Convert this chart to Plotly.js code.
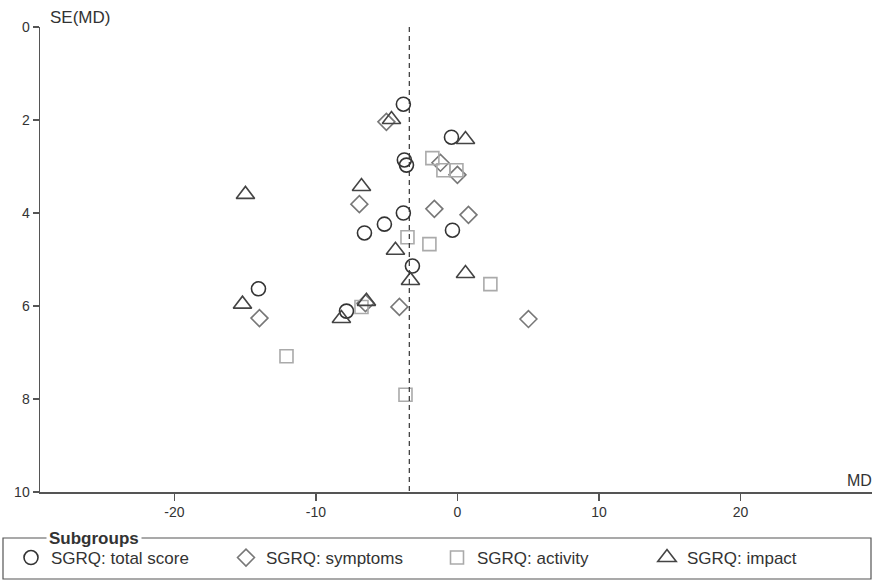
<!DOCTYPE html>
<html>
<head>
<meta charset="utf-8">
<script src="https://cdn.plot.ly/plotly-3.0.1.min.js"></script>
<style>html,body{margin:0;padding:0;background:#fff;}#chart{width:875px;height:583px;}</style>
</head>
<body>
<div id="chart"></div>
<script>
// Subgroup names
const groupNames = ["SGRQ: total score", "SGRQ: symptoms", "SGRQ: activity", "SGRQ: impact"];

// SGRQ: total score (MD, SE)
const totalMD = [-3.82, -0.42, -3.75, -3.6, -3.82, -5.16, -6.57, -0.35, -3.18, -14.06, -7.84];
const totalSE = [1.66, 2.37, 2.86, 2.97, 4.0, 4.24, 4.43, 4.37, 5.14, 5.63, 6.11];

// SGRQ: symptoms
const sympMD = [-5.02, -1.2, 0.0, -6.93, -1.63, 0.78, -13.99, -6.5, -4.1, 5.02];
const sympSE = [2.04, 2.92, 3.18, 3.81, 3.91, 4.04, 6.26, 5.94, 6.02, 6.28];

// SGRQ: activity
const actMD = [-1.77, -0.99, -0.07, -3.53, -1.98, 2.33, -6.78, -12.08, -3.67];
const actSE = [2.82, 3.08, 3.08, 4.52, 4.67, 5.53, 6.02, 7.08, 7.91];

// SGRQ: impact
const impMD = [-4.66, 0.57, -14.98, -6.78, -4.38, -3.32, 0.57, -15.19, -6.43, -8.2];
const impSE = [1.99, 2.42, 3.60, 3.43, 4.80, 5.45, 5.30, 5.96, 5.90, 6.27];

// Pooled effect (dashed line)
const pooledMD = -3.4;
const seRange = [0, 10];

const xTicks = [-20, -10, 0, 10, 20];
const yTicks = [0, 2, 4, 6, 8, 10];

const font = "Liberation Sans, Arial, sans-serif";
const legendIds = ["legend", "legend2", "legend3", "legend4"];
const legendLeft = [11, 226, 437, 647];

function tr(i, x, y, symbol, color, size) {
  return {
    type: "scatter", mode: "markers", name: groupNames[i], x: x, y: y, legend: legendIds[i],
    marker: { symbol: symbol, size: size, color: "rgba(255,255,255,0)", line: { color: color, width: 1.6 } },
    hoverinfo: "x+y"
  };
}

const data = [
  tr(0, totalMD, totalSE, "circle", "#333333", 14),
  tr(1, sympMD, sympSE, "diamond", "#777777", 13),
  tr(2, actMD, actSE, "square", "#aaaaaa", 13),
  tr(3, impMD, impSE, "triangle-up", "#444444", 16)
];

const W = 832, H = 465, L = 40, T = 27;
function px(x) { return (x - L) / W; }
function py(y) { return (T + H - y) / H; }

function legendAt(i) {
  return {
    orientation: "h", xref: "container", yref: "container",
    x: legendLeft[i] / 875, xanchor: "left", y: (583 - 558) / 583, yanchor: "middle",
    font: { family: font, size: 17, color: "#333" },
    bgcolor: "rgba(0,0,0,0)", borderwidth: 0, itemwidth: 30
  };
}

const layout = {
  width: 875, height: 583,
  margin: { l: L, r: 3, t: T, b: 91 },
  paper_bgcolor: "#fff", plot_bgcolor: "#fff",
  font: { family: font, size: 13, color: "#333" },
  showlegend: true,
  xaxis: {
    range: [-29.5, 29.3], tickvals: xTicks, ticktext: xTicks.map(String),
    showgrid: false, zeroline: false, showline: true, linecolor: "#555", linewidth: 1.5,
    ticks: "outside", ticklen: 7, tickcolor: "#555", tickwidth: 1.2,
    tickfont: { family: font, size: 14, color: "#333" }
  },
  yaxis: {
    range: [10, 0], tickvals: yTicks, ticktext: yTicks.map(String),
    showgrid: false, zeroline: false, showline: true, linecolor: "#555", linewidth: 1.5,
    ticks: "outside", ticklen: 6, tickcolor: "#555", tickwidth: 1.2,
    tickfont: { family: font, size: 14, color: "#333" }
  },
  legend: legendAt(0), legend2: legendAt(1), legend3: legendAt(2), legend4: legendAt(3),
  shapes: [
    { type: "line", xref: "x", yref: "y", x0: pooledMD, x1: pooledMD, y0: seRange[0], y1: seRange[1],
      line: { color: "#333", width: 1.2, dash: "5px,4px" } },
    { type: "rect", xref: "paper", yref: "paper", x0: px(3), x1: px(871), y0: py(579), y1: py(538),
      line: { color: "#555", width: 1.2 }, fillcolor: "rgba(0,0,0,0)" }
  ],
  annotations: [
    { text: "SE(MD)", xref: "paper", yref: "paper", x: px(48), y: py(17), xanchor: "left", yanchor: "middle",
      showarrow: false, font: { family: font, size: 17, color: "#333" } },
    { text: "MD", xref: "paper", yref: "paper", x: px(874), y: py(480), xanchor: "right", yanchor: "middle",
      showarrow: false, font: { family: font, size: 16, color: "#333" } },
    { text: "<b>Subgroups</b>", xref: "paper", yref: "paper", x: px(46), y: py(538), xanchor: "left", yanchor: "middle",
      showarrow: false, bgcolor: "#fff", borderpad: 2, font: { family: font, size: 17, color: "#333" } }
  ]
};

Plotly.newPlot("chart", data, layout, { staticPlot: true, displayModeBar: false });
</script>
</body>
</html>
